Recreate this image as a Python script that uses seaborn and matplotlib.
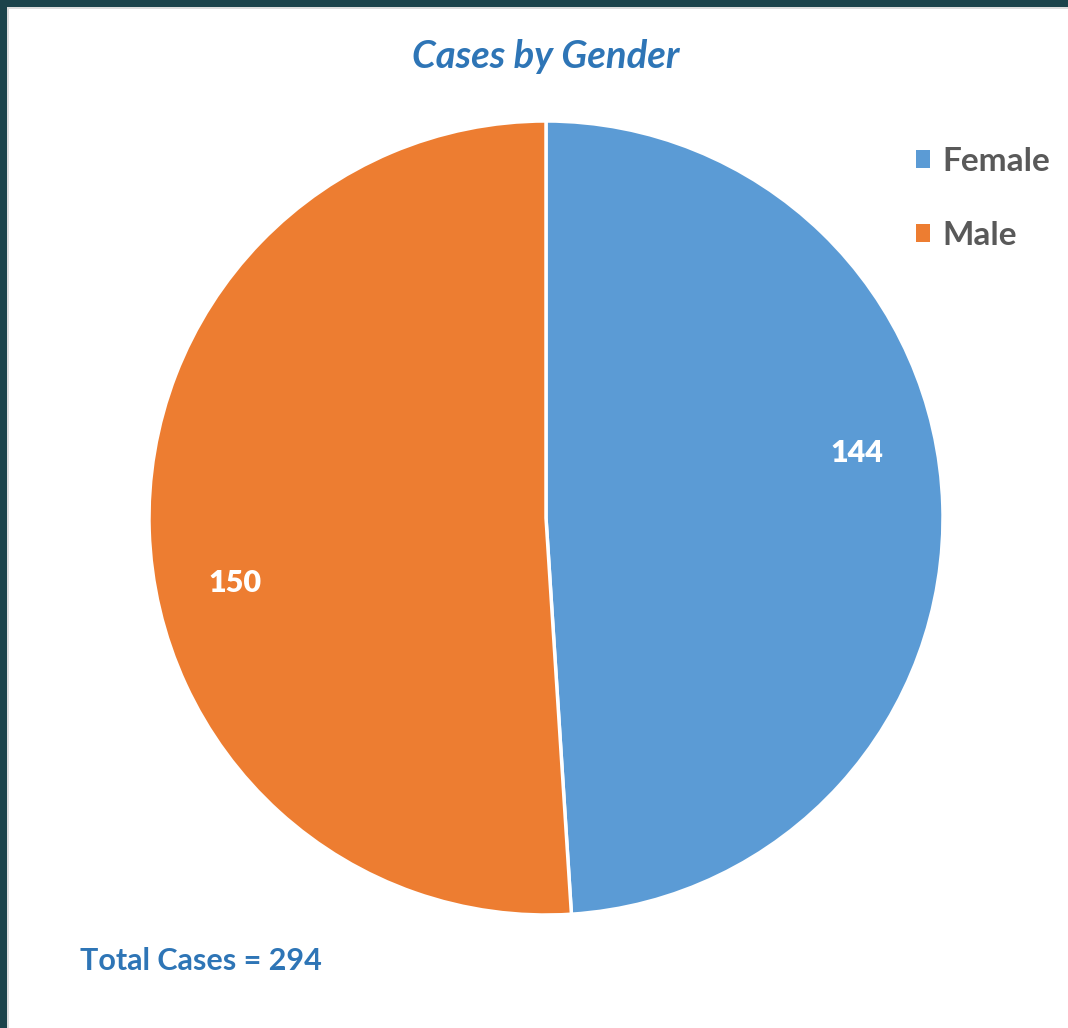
import numpy as np
import matplotlib
matplotlib.use("Agg")
import matplotlib.pyplot as plt
import seaborn as sns
from matplotlib.patches import Rectangle

categories = ["Female", "Male"]
values = [144, 150]
colors = ["#5B9BD5", "#ED7D31"]
title = "Cases by Gender"
total_label = "Total Cases = {}".format(sum(values))

sns.set_theme(style="white")
plt.rcParams["font.family"] = ["Lato", "DejaVu Sans"]

W, H = 1068, 1028
fig = plt.figure(figsize=(W / 100, H / 100), dpi=100)
fig.patch.set_facecolor("#1B434B")

# frame: light grey inner line and white panel
fig.patches.append(Rectangle((7 / W, 0), 1 - 7 / W, 1 - 7 / H, transform=fig.transFigure,
                             facecolor="#DDDDDD", edgecolor="none", zorder=-10))
fig.patches.append(Rectangle((9 / W, 0), 1 - 9 / W, 1 - 9 / H, transform=fig.transFigure,
                             facecolor="white", edgecolor="none", zorder=-9))

cx, cy, r = 546, 518, 397
ax = fig.add_axes([(cx - r) / W, (H - cy - r) / H, 2 * r / W, 2 * r / H])
ax.set_facecolor("none")
ax.set_zorder(5)

wedges, _ = ax.pie(values, colors=colors, startangle=90, counterclock=False,
                   radius=1.0, wedgeprops=dict(edgecolor="white", linewidth=2.5))
ax.set_xlim(-1, 1)
ax.set_ylim(-1, 1)
ax.set_aspect("equal")
ax.axis("off")

for w, v in zip(wedges, values):
    mid = np.deg2rad((w.theta1 + w.theta2) / 2 + 10)
    ax.text(0.80 * np.cos(mid), 0.80 * np.sin(mid), str(v), color="white",
            fontsize=22, fontweight="heavy", ha="center", va="center")

fig.text(546 / W, 1 - 57 / H, title, color="#2E75B6", fontsize=27.5,
         fontweight="bold", fontstyle="italic", ha="center", va="center")

leg = fig.legend(wedges, categories, loc="upper left",
                 bbox_to_anchor=(916 / W, 1 - 147 / H), frameon=False,
                 borderpad=0, borderaxespad=0,
                 handlelength=0.43, handleheight=0.43, handletextpad=0.36,
                 labelspacing=1.35, prop=dict(size=24, weight="bold"))
for t in leg.get_texts():
    t.set_color("#595959")
for h in leg.legend_handles:
    h.set_edgecolor("none")

fig.text(80 / W, 1 - 961 / H, total_label, color="#2E75B6", fontsize=22,
         fontweight="bold", ha="left", va="center")

fig.savefig("out.png", dpi=100, facecolor=fig.get_facecolor())
